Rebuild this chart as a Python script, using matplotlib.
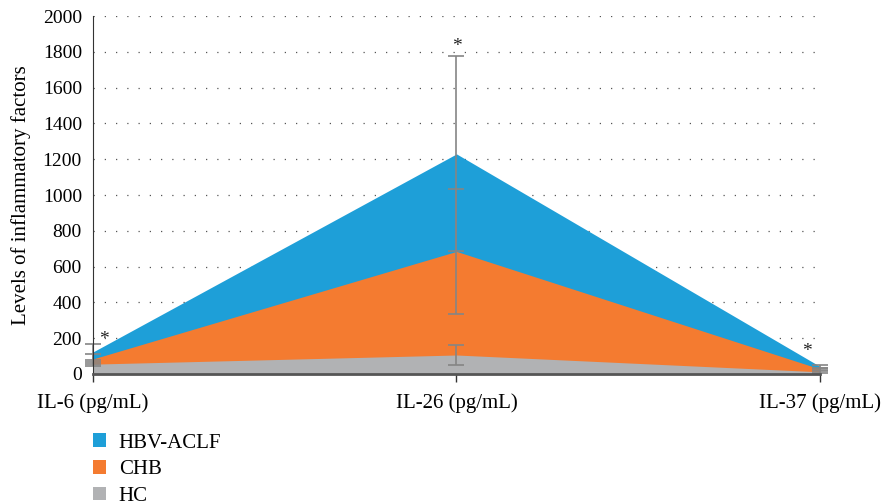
import matplotlib.pyplot as plt
from matplotlib.patches import Patch

# Dados
categorias = ["IL-6 (pg/mL)", "IL-26 (pg/mL)", "IL-37 (pg/mL)"]
grupos = ["HBV-ACLF", "CHB", "HC"]
hbv_aclf = [123, 1230, 42]
hbv_aclf_err = [45, 545, 10]
chb = [84, 685, 28]
chb_err = [28, 350, 6]
hc = [55, 106, 12]
hc_err = [10, 56, 6]
estrelas_x = [0.03, 1.0, 1.965]
estrelas_y = [190, 1830, 125]

cores = {"HBV-ACLF": "#1E9FD8", "CHB": "#F47B30", "HC": "#B1B2B4"}
cor_erro = "#858585"

plt.rcParams["font.family"] = ["Liberation Serif", "DejaVu Serif"]

fig = plt.figure(figsize=(8.82, 5.04), dpi=100)
ax = fig.add_axes([0.1054, 0.258, 0.8243, 0.71])

x = list(range(len(categorias)))
series = [(hbv_aclf, hbv_aclf_err, "HBV-ACLF"), (chb, chb_err, "CHB"), (hc, hc_err, "HC")]

for vals, errs, nome in series:
    ax.fill_between(x, 0, vals, color=cores[nome], linewidth=0, zorder=2)

for vals, errs, nome in series:
    eb = ax.errorbar(x, vals, yerr=errs, fmt="none", ecolor=cor_erro,
                     elinewidth=1.2, capsize=6, capthick=1.2, zorder=3)
    for parte in eb.lines[1] + eb.lines[2]:
        parte.set_clip_on(False)

for sx, sy in zip(estrelas_x, estrelas_y):
    ax.text(sx, sy, "*", ha="center", va="center", fontsize=14, color="#222222", zorder=4)

ax.set_xlim(0, 2)
ax.set_ylim(0, 2000)
ax.set_yticks(range(0, 2001, 200))
ax.set_xticks(x)
ax.set_xticklabels(categorias, fontsize=15)
ax.tick_params(axis="y", length=0, labelsize=14, pad=8)
ax.tick_params(axis="x", length=6, width=1, color="#333333", pad=8)
ax.grid(axis="y", linestyle=(0, (1, 8)), color="#555555", linewidth=0.9, zorder=1)
ax.set_axisbelow(True)

for lado in ["top", "right"]:
    ax.spines[lado].set_visible(False)
ax.spines["left"].set_color("#333333")
ax.spines["bottom"].set_color("#555555")
ax.spines["bottom"].set_linewidth(2)
ax.spines["left"].set_zorder(5)
ax.spines["bottom"].set_zorder(5)

ax.set_ylabel("Levels of inflammatory factors", fontsize=15, labelpad=8)

handles = [Patch(facecolor=cores[g], edgecolor="none", label=g) for g in grupos]
fig.legend(handles=handles, loc="upper left", bbox_to_anchor=(0.105, 0.14),
           frameon=False, fontsize=15, handlelength=0.65, handleheight=0.65,
           labelspacing=0.35, handletextpad=0.6, borderpad=0, borderaxespad=0)

fig.savefig("out.png", dpi=100)
